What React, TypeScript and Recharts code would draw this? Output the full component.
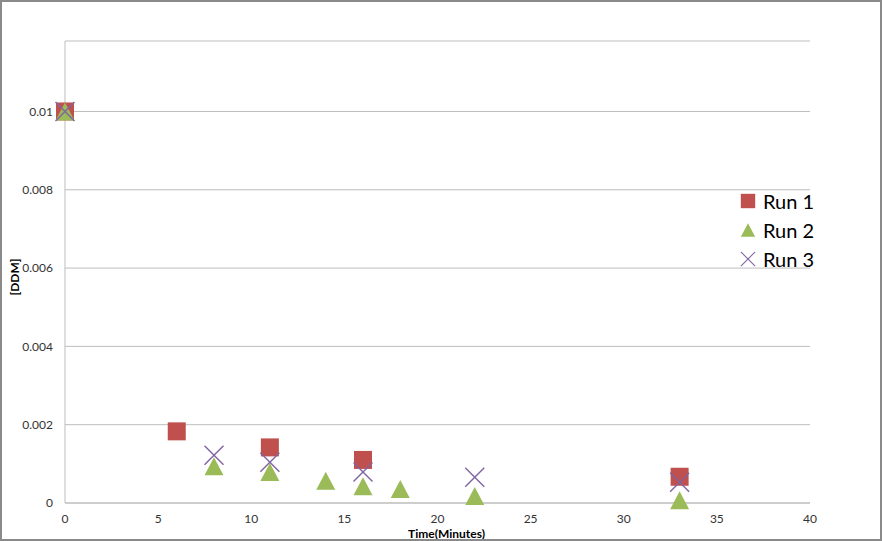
import { ScatterChart, Scatter, XAxis, YAxis, CartesianGrid, Legend, Label } from "recharts";

const run1Time = [0, 6, 11, 16, 33];
const run1Ddm = [0.01, 0.00183, 0.00142, 0.0011, 0.00067];

const run2Time = [0, 8, 11, 14, 16, 18, 22, 33];
const run2Ddm = [0.01, 0.00094, 0.00079, 0.00057, 0.00043, 0.00036, 0.00018, 0.00007];

const run3Time = [0, 8, 11, 16, 22, 33];
const run3Ddm = [0.01, 0.00122, 0.00104, 0.00079, 0.00066, 0.00053];

const xTicks = [0, 5, 10, 15, 20, 25, 30, 35, 40];
const yTicks = [0, 0.002, 0.004, 0.006, 0.008, 0.01];

const RED = "#c0504d";
const GREEN = "#9bbb59";
const PURPLE = "#8064a2";
const GRID = "#bdbdbd";
const FONT = "Lato, 'Open Sans', sans-serif";

const toPoints = (xs: number[], ys: number[]) => xs.map((x, i) => ({ x, y: ys[i] }));

const run1 = toPoints(run1Time, run1Ddm);
const run2 = toPoints(run2Time, run2Ddm);
const run3 = toPoints(run3Time, run3Ddm);

const SquareMark = ({ cx, cy }: any) => <rect x={cx - 9} y={cy - 9} width={18} height={18} fill={RED} />;

const TriangleMark = ({ cx, cy }: any) => (
  <polygon points={`${cx},${cy - 9} ${cx + 9.5},${cy + 9} ${cx - 9.5},${cy + 9}`} fill={GREEN} />
);

const CrossMark = ({ cx, cy }: any) => (
  <g stroke={PURPLE} strokeWidth={1.4}>
    <line x1={cx - 9.5} y1={cy - 9.5} x2={cx + 9.5} y2={cy + 9.5} />
    <line x1={cx - 9.5} y1={cy + 9.5} x2={cx + 9.5} y2={cy - 9.5} />
  </g>
);

const legendRows = [
  { name: "Run 1", Mark: SquareMark, scale: 0.8 },
  { name: "Run 2", Mark: TriangleMark, scale: 0.75 },
  { name: "Run 3", Mark: CrossMark, scale: 0.75 },
];

function LegendBox() {
  return (
    <div style={{ fontFamily: FONT, fontSize: 20, color: "#000" }}>
      {legendRows.map(({ name, Mark, scale }) => (
        <div key={name} style={{ display: "flex", alignItems: "center", height: 29 }}>
          <svg width={20} height={20} style={{ marginRight: 5 }}>
            <g transform={`translate(10,10) scale(${scale})`}>
              <Mark cx={0} cy={0} />
            </g>
          </svg>
          <span>{name}</span>
        </div>
      ))}
    </div>
  );
}

export default function App() {
  return (
    <div style={{ position: "absolute", left: 0, top: 0, width: 882, height: 541, background: "#fff" }}>
      <ScatterChart width={882} height={541} margin={{ top: 41, right: 72, bottom: 8, left: 0 }}>
        <CartesianGrid vertical={false} stroke={GRID} />
        <XAxis
          type="number"
          dataKey="x"
          height={30}
          domain={[0, 40]}
          ticks={xTicks}
          tickLine={false}
          axisLine={{ stroke: GRID }}
          tickMargin={5}
          tick={{ fill: "#333", fontSize: 12, fontFamily: FONT }}
        >
          <Label
            value="Time(Minutes)"
            position="insideBottom"
            offset={-5}
            dx={9}
            style={{ fontFamily: FONT, fontWeight: 700, fontSize: 12, fill: "#000" }}
          />
        </XAxis>
        <YAxis
          type="number"
          dataKey="y"
          width={65}
          domain={[0, 0.0118]}
          ticks={yTicks}
          tickLine={false}
          axisLine={{ stroke: GRID }}
          tickMargin={6}
          tickFormatter={(v: number) => String(v)}
          tick={{ fill: "#333", fontSize: 12, fontFamily: FONT }}
        >
          <Label
            value="[DDM]"
            angle={-90}
            position="insideLeft"
            offset={15}
            dy={5}
            style={{ fontFamily: FONT, fontWeight: 700, fontSize: 12, fill: "#000", textAnchor: "middle" }}
          />
        </YAxis>
        <Legend
          layout="vertical"
          align="center"
          verticalAlign="middle"
          content={() => <LegendBox />}
          wrapperStyle={{ top: 186, left: 738, width: 100 }}
        />
        <Scatter name="Run 1" data={run1} fill={RED} shape={SquareMark} isAnimationActive={false} />
        <Scatter name="Run 2" data={run2} fill={GREEN} shape={TriangleMark} isAnimationActive={false} />
        <Scatter name="Run 3" data={run3} fill={PURPLE} shape={CrossMark} isAnimationActive={false} />
      </ScatterChart>
      <div
        style={{
          position: "absolute",
          inset: 0,
          border: "2px solid #8a8a8a",
          boxSizing: "border-box",
          pointerEvents: "none",
        }}
      />
    </div>
  );
}
